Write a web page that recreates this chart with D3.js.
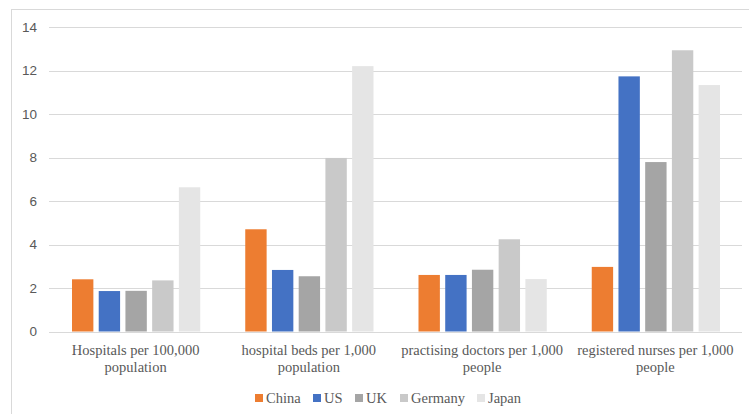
<!DOCTYPE html>
<html>
<head>
<meta charset="utf-8">
<script src="https://cdn.jsdelivr.net/npm/d3@7"></script>
<style>
  html, body { margin: 0; padding: 0; background: #fff; }
  svg { display: block; }
</style>
</head>
<body>
<svg id="chart" width="749" height="414"></svg>
<script>
// Health resources per population, by country
const categories = [
  ["Hospitals per 100,000", "population"],
  ["hospital beds per 1,000", "population"],
  ["practising doctors per 1,000", "people"],
  ["registered nurses per 1,000", "people"]
];
const seriesNames = ["China", "US", "UK", "Germany", "Japan"];
const china   = [2.4, 4.7, 2.6, 2.97];
const us      = [1.86, 2.83, 2.6, 11.73];
const uk      = [1.87, 2.54, 2.84, 7.79];
const germany = [2.35, 7.98, 4.24, 12.93];
const japan   = [6.63, 12.2, 2.41, 11.33];
const yTicks  = [0, 2, 4, 6, 8, 10, 12, 14];
const colors  = ["#ED7D31", "#4472C4", "#A5A5A5", "#C9C9C9", "#E5E5E5"];

const values = [china, us, uk, germany, japan];

const svg = d3.select("#chart");
const W = 749, H = 414;
const plot = { left: 49, right: 742, top: 27, bottom: 331.5 };

// outer chart frame (top and left edges visible)
svg.append("rect")
  .attr("x", 11.5).attr("y", 9.5)
  .attr("width", W).attr("height", H)
  .attr("fill", "none").attr("stroke", "#D9D9D9").attr("stroke-width", 1);

const x0 = d3.scaleBand()
  .domain(d3.range(categories.length))
  .range([plot.left, plot.right])
  .paddingInner(0).paddingOuter(0);

const x1 = d3.scaleBand()
  .domain(d3.range(seriesNames.length))
  .range([23, x0.bandwidth() - 22])
  .paddingInner(0.2);

const y = d3.scaleLinear().domain([0, 14]).range([plot.bottom, plot.top]);

// gridlines
svg.append("g")
  .selectAll("line")
  .data(yTicks)
  .join("line")
  .attr("x1", plot.left).attr("x2", plot.right)
  .attr("y1", d => Math.round(y(d)) + 0.5).attr("y2", d => Math.round(y(d)) + 0.5)
  .attr("stroke", "#D9D9D9").attr("stroke-width", 1);

// y axis labels
const yAxis = d3.axisLeft(y).tickValues(yTicks).tickSize(0).tickPadding(0);
const yg = svg.append("g").attr("transform", `translate(37,0)`).call(yAxis);
yg.select(".domain").remove();
yg.selectAll("text")
  .attr("font-family", "'Liberation Sans', Arial, sans-serif")
  .attr("font-size", "13.5px")
  .attr("fill", "#595959");

// bars
const groups = svg.append("g")
  .selectAll("g")
  .data(categories.map((c, i) => i))
  .join("g")
  .attr("transform", i => `translate(${x0(i)},0)`);

groups.selectAll("rect")
  .data(i => values.map((s, k) => ({ k, v: s[i] })))
  .join("rect")
  .attr("x", d => x1(d.k))
  .attr("width", x1.bandwidth())
  .attr("y", d => y(d.v))
  .attr("height", d => y(0) - y(d.v))
  .attr("fill", d => colors[d.k]);

// category labels
const labels = svg.append("g")
  .selectAll("text")
  .data(categories)
  .join("text")
  .attr("x", (d, i) => x0(i) + x0.bandwidth() / 2)
  .attr("text-anchor", "middle")
  .attr("font-family", "'Liberation Serif', 'Times New Roman', serif")
  .attr("font-size", "14.5px")
  .attr("fill", "#595959");
labels.each(function(d) {
  const t = d3.select(this);
  d.forEach((line, j) => {
    t.append("tspan")
      .attr("x", t.attr("x"))
      .attr("y", 355 + j * 17)
      .text(line);
  });
});

// legend
const legendX = [255, 313, 355, 400, 477];
const legend = svg.append("g")
  .selectAll("g")
  .data(seriesNames)
  .join("g")
  .attr("transform", (d, i) => `translate(${legendX[i]},394)`);
legend.append("rect")
  .attr("width", 8).attr("height", 8)
  .attr("fill", (d, i) => colors[i]);
legend.append("text")
  .attr("x", 11).attr("y", 8.5)
  .attr("font-family", "'Liberation Serif', 'Times New Roman', serif")
  .attr("font-size", "14.5px")
  .attr("fill", "#595959")
  .text(d => d);
</script>
</body>
</html>
